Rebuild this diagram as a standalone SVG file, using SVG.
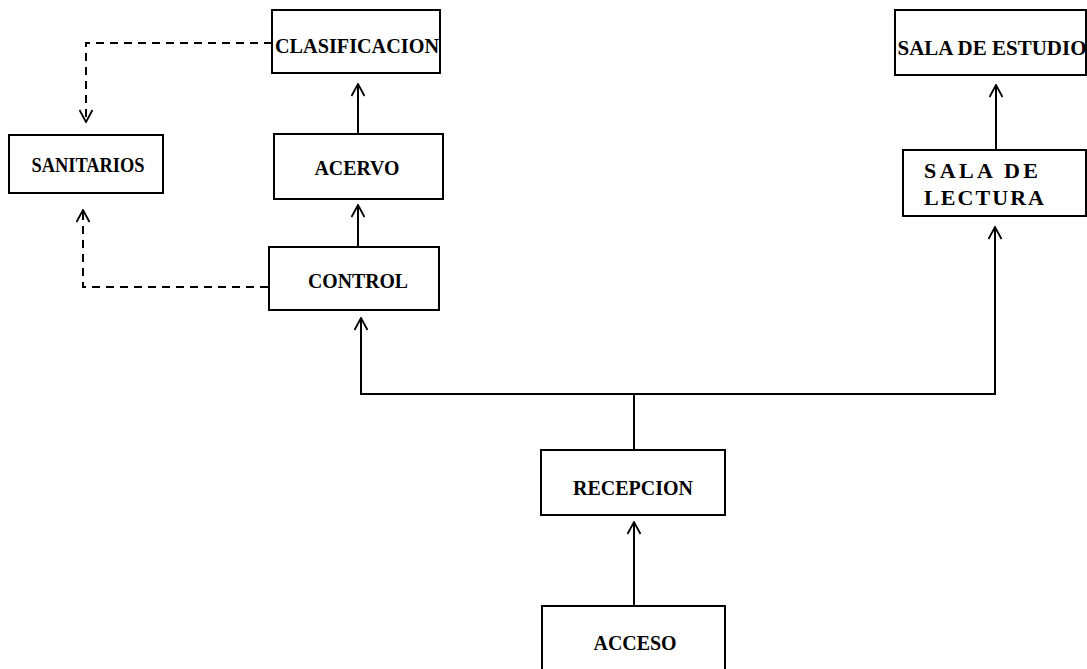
<svg xmlns="http://www.w3.org/2000/svg" width="1087" height="669" viewBox="0 0 1087 669">
<defs>
<marker id="open" viewBox="0 0 14 14" refX="13" refY="7" markerWidth="14" markerHeight="14" markerUnits="userSpaceOnUse" orient="auto">
<path d="M1,0.5 L13,7 L1,13.5" fill="none" stroke="#000" stroke-width="1.8"/>
</marker>
</defs>
<style>
.box{fill:#fff;stroke:#000;stroke-width:2}
.lbl{font-family:"Liberation Serif","Times New Roman",serif;font-weight:bold;font-size:20px;fill:#000;text-anchor:middle}
.big{font-size:22px}
.ln{fill:none;stroke:#000;stroke-width:2}
.dash{fill:none;stroke:#000;stroke-width:2;stroke-dasharray:8 6}
</style>
<rect width="1087" height="669" fill="#fff"/>
<g id="connectors">
<path class="dash" d="M272,43 H86 V122" marker-end="url(#open)"/>
<path class="dash" d="M268,287 H83 V210" marker-end="url(#open)"/>
<path class="ln" d="M358,134 V84" marker-end="url(#open)"/>
<path class="ln" d="M358,247 V205" marker-end="url(#open)"/>
<path class="ln" d="M634,450 V394 H361 V318" marker-end="url(#open)"/>
<path class="ln" d="M634,394 H995 V227" marker-end="url(#open)"/>
<path class="ln" d="M996,150 V85" marker-end="url(#open)"/>
<path class="ln" d="M634,606 V522" marker-end="url(#open)"/>
</g>
<g id="clasificacion"><rect class="box" x="272" y="10" width="168" height="63"/><text class="lbl" x="357" y="53" textLength="164" lengthAdjust="spacingAndGlyphs">CLASIFICACION</text></g>
<g id="sanitarios"><rect class="box" x="9" y="135" width="154" height="58"/><text class="lbl" x="88" y="172" textLength="113" lengthAdjust="spacingAndGlyphs">SANITARIOS</text></g>
<g id="acervo"><rect class="box" x="274" y="134" width="169" height="65"/><text class="lbl" x="357" y="175" textLength="85" lengthAdjust="spacingAndGlyphs">ACERVO</text></g>
<g id="control"><rect class="box" x="269" y="247" width="170" height="63"/><text class="lbl" x="358" y="288" textLength="100" lengthAdjust="spacingAndGlyphs">CONTROL</text></g>
<g id="sala-estudio"><rect class="box" x="895" y="10" width="191" height="65"/><text class="lbl" x="992" y="55" textLength="189" lengthAdjust="spacingAndGlyphs">SALA DE ESTUDIO</text></g>
<g id="sala-lectura"><rect class="box" x="903" y="150" width="183" height="66"/><text class="lbl big" x="981" y="178" textLength="114" lengthAdjust="spacing">SALA DE</text><text class="lbl big" x="984" y="205" textLength="120" lengthAdjust="spacing">LECTURA</text></g>
<g id="recepcion"><rect class="box" x="541" y="450" width="184" height="65"/><text class="lbl" x="633" y="495" textLength="120" lengthAdjust="spacingAndGlyphs">RECEPCION</text></g>
<g id="acceso"><rect class="box" x="542" y="606" width="183" height="70"/><text class="lbl" x="635" y="650" textLength="83" lengthAdjust="spacingAndGlyphs">ACCESO</text></g>
</svg>
